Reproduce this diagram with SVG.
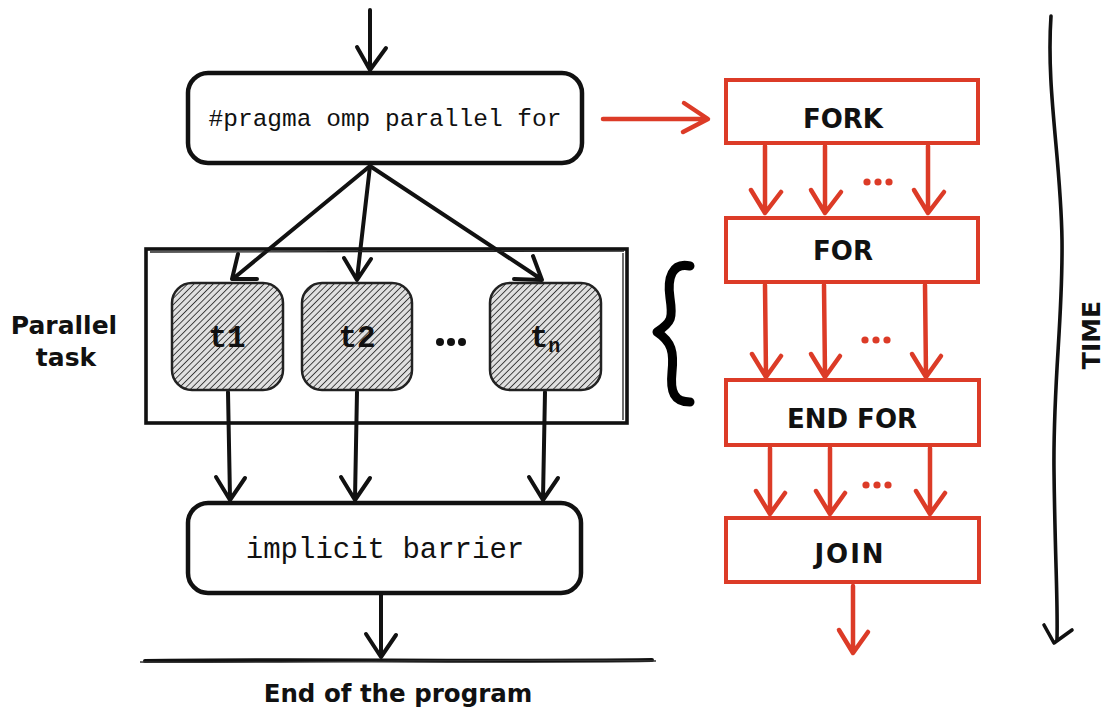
<svg xmlns="http://www.w3.org/2000/svg" width="1105" height="713" viewBox="0 0 1105 713">
<style>
.blk{fill:none;stroke:#111;stroke-width:4;stroke-linecap:round;stroke-linejoin:round}
.red{fill:none;stroke:#dc3b27;stroke-width:4.5;stroke-linecap:round;stroke-linejoin:round}
.rbox{fill:#fff;stroke:#dc3b27;stroke-width:4}
.bbox{fill:#fff;stroke:#111;stroke-width:4.5}
.task{fill:url(#hatch);stroke:#222;stroke-width:2.5}
.mono{font-family:"Liberation Mono","Courier New",monospace;fill:#111;text-anchor:middle}
.hand{font-family:"DejaVu Sans","Noto Sans",sans-serif;font-weight:bold;fill:#111;text-anchor:middle}
.dotb{fill:#111}
.dotr{fill:#dc3b27}
</style>
<defs>
<pattern id="hatch" patternUnits="userSpaceOnUse" width="4.5" height="4.5" patternTransform="rotate(45)">
<rect width="4.5" height="4.5" fill="#e0e0e0"/>
<line x1="0" y1="0" x2="0" y2="4.5" stroke="#2a2a2a" stroke-width="1.7"/>
</pattern>
</defs>

<g id="connectors">
<path class="blk" d="M370 10 L370 68 M357 47 L370 70 L386 48"/>
<path class="blk" d="M370 166 L234 278 M238 254 L232 279 L257 279"/>
<path class="blk" d="M370 166 L357 279 M344 258 L357 280 L371 259"/>
<path class="blk" d="M370 166 L541 279 M514 279 L542 280 L533 256"/>
<path class="blk" d="M228 392 L230 498 M216 477 L230 500 L245 478"/>
<path class="blk" d="M357 392 L355 498 M341 477 L355 500 L370 478"/>
<path class="blk" d="M545 392 L543 498 M529 477 L543 500 L558 478"/>
<path class="blk" d="M381 595 L381 655 M366 634 L381 657 L396 635"/>
<path class="red" d="M603 119 L706 119 M684 103 L708 119 L683 132"/>
<path class="red" d="M765 146 L765 211 M751 190 L765 213 L781 192"/>
<path class="red" d="M825 146 L825 211 M811 190 L825 213 L841 192"/>
<path class="red" d="M928 146 L928 211 M914 190 L928 213 L944 192"/>
<path class="red" d="M765 285 L766 375 M752 354 L766 377 L781 356"/>
<path class="red" d="M824 285 L825 375 M811 354 L825 377 L840 356"/>
<path class="red" d="M925 285 L926 375 M912 354 L926 377 L941 356"/>
<path class="red" d="M770 448 L770 512 M756 491 L770 514 L785 493"/>
<path class="red" d="M830 448 L830 512 M816 491 L830 514 L845 493"/>
<path class="red" d="M930 448 L930 512 M916 491 L930 514 L945 493"/>
<path class="red" d="M853 586 L853 651 M839 630 L853 653 L868 632"/>
<path fill="none" stroke="#111" stroke-width="3.6" stroke-linecap="round" d="M1051 16 C1046 90 1061 160 1062 240 C1063 320 1053 380 1054 470 C1055 560 1058 600 1057 640"/>
<path fill="none" stroke="#111" stroke-width="3.6" stroke-linecap="round" stroke-linejoin="round" d="M1044 625 L1054 643 L1072 630"/>
<path fill="none" stroke="#111" stroke-width="4" stroke-linecap="round" d="M145 661 C300 659 480 662 652 660"/>
<path fill="none" stroke="#333" stroke-width="1.3" d="M140 662 C300 664 480 658 656 661"/>
</g>

<g id="parallel-region">
<rect x="146" y="249" width="481" height="174" fill="none" stroke="#111" stroke-width="3.6"/>
<path fill="none" stroke="#222" stroke-width="1.3" d="M150 252 L624 251 M623 253 L623 420"/>
</g>

<g id="pragma">
<rect class="bbox" x="188" y="73" width="394" height="90" rx="20"/>
<text class="mono" x="385" y="126" font-size="24.5">#pragma omp parallel for</text>
</g>

<g id="task-t1">
<rect class="task" x="172" y="283" width="111" height="107" rx="20"/>
<text class="mono" x="227" y="347" font-size="31" font-weight="bold">t1</text>
</g>
<g id="task-t2">
<rect class="task" x="302" y="283" width="110" height="107" rx="20"/>
<text class="mono" x="357" y="347" font-size="31" font-weight="bold">t2</text>
</g>
<g id="task-dots">
<circle class="dotb" cx="440" cy="342" r="4"/>
<circle class="dotb" cx="451" cy="342" r="4"/>
<circle class="dotb" cx="462" cy="342" r="4"/>
</g>
<g id="task-tn">
<rect class="task" x="490" y="283" width="111" height="107" rx="20"/>
<text class="mono" x="545" y="347" font-size="31" font-weight="bold">t<tspan font-size="20" dy="5">n</tspan></text>
</g>

<g id="label-parallel">
<text class="hand" x="64" y="334" font-size="25">Parallel</text>
<text class="hand" x="66" y="366" font-size="25">task</text>
</g>

<g id="brace">
<path fill="none" stroke="#000" stroke-width="9" stroke-linecap="round" stroke-linejoin="round" d="M690 266 C672 262 667 278 670 298 C673 318 672 322 657 332 C672 342 674 352 672 372 C670 392 674 402 690 402"/>
</g>

<g id="barrier">
<rect class="bbox" x="188" y="503" width="393" height="90" rx="20"/>
<text class="mono" x="385" y="558" font-size="29">implicit barrier</text>
</g>

<g id="end-label">
<text class="hand" x="398" y="702" font-size="24.5">End of the program</text>
</g>

<g id="fork">
<rect class="rbox" x="726" y="80" width="252" height="63"/>
<text class="hand" x="843" y="128" font-size="26">FORK</text>
</g>
<g id="dots1">
<circle class="dotr" cx="867" cy="182" r="3.6"/>
<circle class="dotr" cx="878" cy="182" r="3.6"/>
<circle class="dotr" cx="889" cy="182" r="3.6"/>
</g>
<g id="for">
<rect class="rbox" x="726" y="218" width="252" height="64"/>
<text class="hand" x="843" y="260" font-size="26">FOR</text>
</g>
<g id="dots2">
<circle class="dotr" cx="865" cy="340" r="3.6"/>
<circle class="dotr" cx="876" cy="340" r="3.6"/>
<circle class="dotr" cx="887" cy="340" r="3.6"/>
</g>
<g id="endfor">
<rect class="rbox" x="726" y="380" width="253" height="65"/>
<text class="hand" x="852" y="428" font-size="26">END FOR</text>
</g>
<g id="dots3">
<circle class="dotr" cx="866" cy="485" r="3.6"/>
<circle class="dotr" cx="877" cy="485" r="3.6"/>
<circle class="dotr" cx="888" cy="485" r="3.6"/>
</g>
<g id="join">
<rect class="rbox" x="726" y="518" width="253" height="64"/>
<text class="hand" x="850" y="563" font-size="26" letter-spacing="2">JOIN</text>
</g>

<g id="time-label">
<text class="hand" x="0" y="0" font-size="25" transform="translate(1100 335) rotate(-90)">TIME</text>
</g>
</svg>
